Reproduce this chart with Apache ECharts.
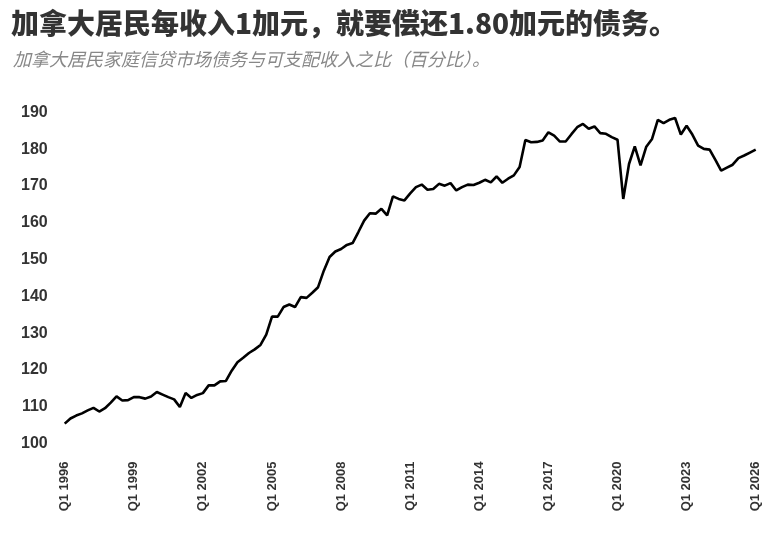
<!DOCTYPE html>
<html lang="zh">

<head>
  <meta charset="UTF-8" />
  <title>加拿大居民债务收入比</title>
  <script src="https://cdn.jsdelivr.net/npm/echarts@6/dist/echarts.min.js"></script>
  <style>
    html, body { margin: 0; padding: 0; background: #fff; }
  </style>
</head>

<body>
  <div id="main" style="width: 769px;height:533px;"></div>
  <script type="text/javascript">
    // 季度标签：Q1 1996 ~ Q1 2026
    var startYear = 1996
    var endYear = 2026
    var quarters = []
    for (var y = startYear; y <= endYear; y++) {
      for (var q = 1; q <= 4; q++) {
        if (y === endYear && q > 1) break
        quarters.push('Q' + q + ' ' + y)
      }
    }

    // 债务与可支配收入之比（%），按时期分段
    var ratio1996to2005 = [
      105.4, 106.8, 107.6, 108.2, 109.0, 109.7, 108.7, 109.6, 111.1, 112.8,
      111.7, 111.8, 112.6, 112.6, 112.2, 112.8, 114.0, 113.3, 112.6, 112.0,
      109.9, 113.7, 112.4, 113.2, 113.7, 115.8, 115.8, 116.9, 117.0, 119.8,
      122.1, 123.3, 124.6, 125.6, 126.8, 129.6, 134.5, 134.5, 137.1, 137.8
    ]
    var ratio2006to2015 = [
      137.1, 139.8, 139.6, 141.0, 142.5, 147.0, 150.7, 152.2, 152.9, 154.0,
      154.5, 157.5, 160.6, 162.6, 162.5, 163.8, 162.0, 167.2, 166.5, 166.1,
      168.0, 169.7, 170.4, 169.0, 169.2, 170.6, 170.1, 170.8, 168.8, 169.7,
      170.4, 170.3, 170.9, 171.7, 171.0, 172.6, 170.9, 172.0, 172.9, 175.2
    ]
    var ratio2016to2026 = [
      182.5, 181.9, 182.0, 182.4, 184.6, 183.7, 182.1, 182.1, 184.1, 186.0,
      186.9, 185.6, 186.2, 184.4, 184.2, 183.3, 182.6, 166.5, 176.0, 180.8,
      175.6, 180.7, 182.8, 188.0, 187.1, 188.0, 188.5, 184.0, 186.4, 184.0,
      181.0, 180.1, 179.9, 177.1, 174.2, 175.0, 175.8, 177.6, 178.3, 179.1,
      179.9
    ]
    var debtRatio = ratio1996to2005.concat(ratio2006to2015, ratio2016to2026)

    var yMin = 100
    var yMax = 190
    var yStep = 10

    var myChart = echarts.init(document.getElementById('main'))
    var option = {
      backgroundColor: '#fff',
      animation: false,
      title: [
        {
          text: '加拿大居民每收入1加元，就要偿还1.80加元的债务。',
          left: 6,
          top: 4,
          textStyle: {
            fontFamily: 'Noto Sans CJK SC',
            fontSize: 28,
            fontWeight: 900,
            color: '#333'
          }
        },
        {
          text: '加拿大居民家庭信贷市场债务与可支配收入之比（百分比）。',
          left: 8,
          top: 45,
          textStyle: {
            fontFamily: 'Noto Sans CJK SC',
            fontSize: 18,
            fontWeight: 'normal',
            fontStyle: 'italic',
            color: '#888'
          }
        }
      ],
      grid: {
        left: 64.7,
        right: 13.3,
        top: 112.5,
        bottom: 89.5,
        containLabel: false
      },
      xAxis: {
        type: 'category',
        data: quarters,
        boundaryGap: false,
        axisLine: { show: false },
        axisTick: { show: false },
        splitLine: { show: false },
        axisLabel: {
          interval: 11,
          rotate: 90,
          margin: 18,
          fontFamily: 'Liberation Sans',
          fontSize: 13,
          fontWeight: 'bold',
          color: '#333'
        }
      },
      yAxis: {
        type: 'value',
        min: yMin,
        max: yMax,
        interval: yStep,
        axisLine: { show: false },
        axisTick: { show: false },
        splitLine: { show: false },
        axisLabel: {
          margin: 17,
          fontFamily: 'Liberation Sans',
          fontSize: 16,
          fontWeight: 'bold',
          color: '#333'
        }
      },
      series: [
        {
          type: 'line',
          data: debtRatio,
          showSymbol: false,
          lineStyle: { color: '#000', width: 2.6 },
          itemStyle: { color: '#000' }
        }
      ]
    }
    myChart.setOption(option)
  </script>
</body>

</html>
